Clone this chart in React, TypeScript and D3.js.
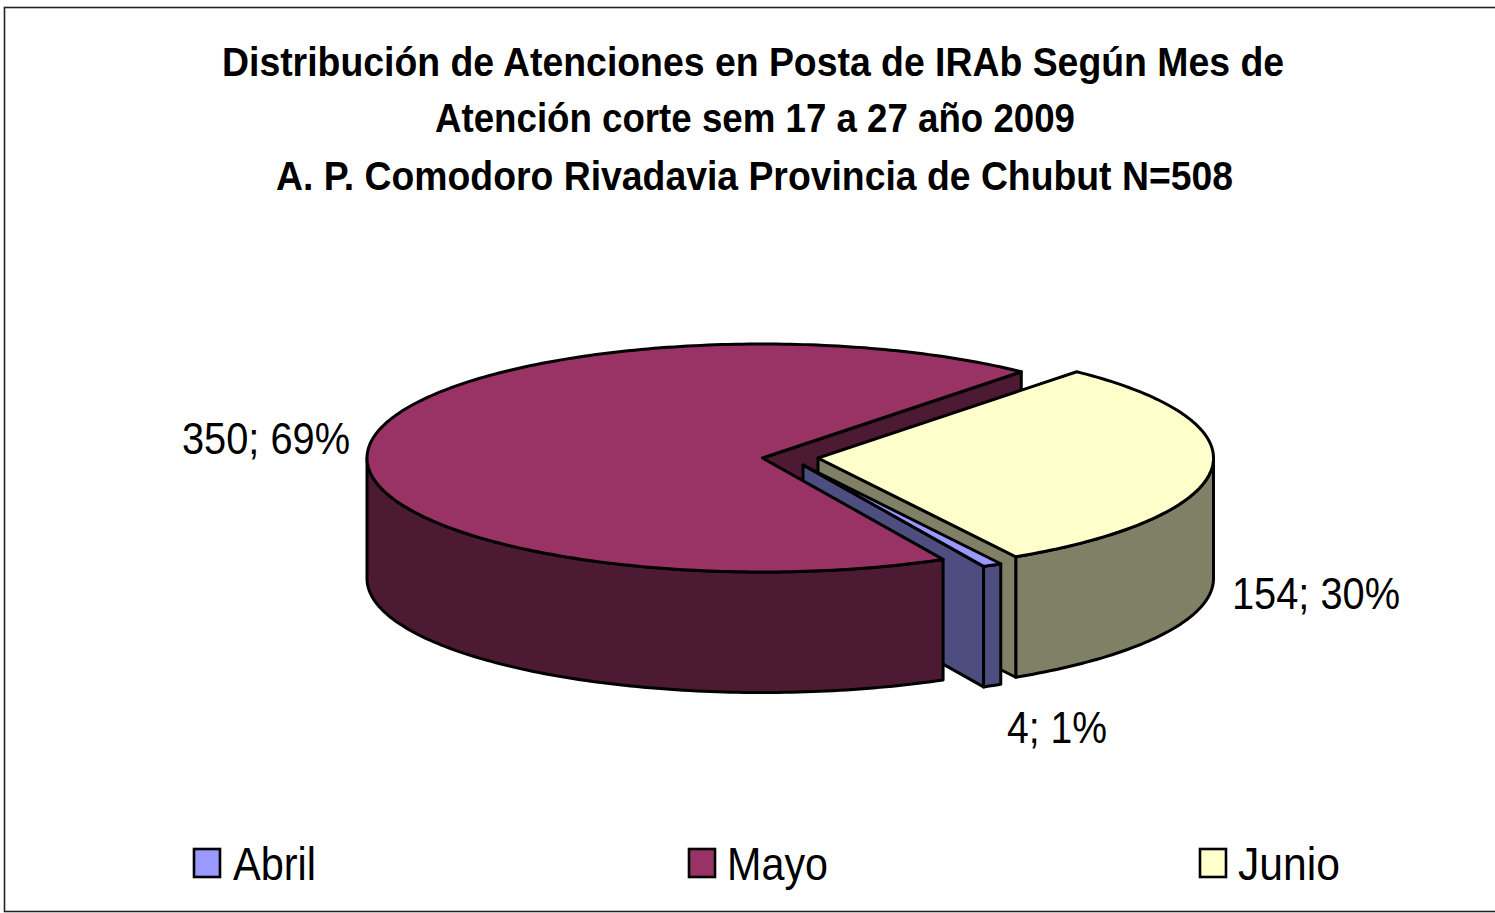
import React from "react";
import * as d3 from "d3";

const months = ["Abril", "Mayo", "Junio"];
const counts = [4, 350, 154];
const pointLabels = ["4; 1%", "350; 69%", "154; 30%"];
const titleLines = [
  "Distribución de Atenciones en Posta de IRAb Según Mes de",
  "Atención corte sem 17 a 27 año 2009",
  "A. P. Comodoro Rivadavia Provincia de Chubut N=508",
];
const topColors = ["#9999FF", "#993366", "#FFFFCC"];
const wallColors = ["#4D4D80", "#4D1A33", "#808066"];

const W = 1495, H = 913;
const RX = 395.5, RY = 114, DEPTH = 120.5;
const apexes = [[803, 465], [762.5, 458], [818, 458]];
const titleLayout = [[222, 1284, 76], [435, 1075, 132], [276, 1233, 190]];
const labelLayout = [[1007, 1107, 743], [182, 350, 454], [1232, 1400, 609]];
const legendLayout = [[193, 233, 316], [688, 727, 828], [1199, 1238, 1340]];

const rad = (d: number) => (d * Math.PI) / 180;
const pie = d3.pie<number>().sort(null).startAngle(rad(150)).endAngle(rad(510));
const arcs = pie(counts);
const line = d3.line<[number, number]>().x((d) => d[0]).y((d) => d[1]);
const sx = d3.scaleLinear().domain([-1, 1]).range([-RX, RX]);
const sy = d3.scaleLinear().domain([-1, 1]).range([RY, -RY]);

function pt(i: number, a: number, dz = 0): [number, number] {
  return [apexes[i][0] + sx(Math.sin(a)), apexes[i][1] + sy(Math.cos(a)) + dz];
}
function sample(a0: number, a1: number): number[] {
  const n = Math.max(2, Math.ceil(Math.abs(a1 - a0) / rad(1)));
  return d3.range(n + 1).map((k) => a0 + ((a1 - a0) * k) / n);
}
function topPath(i: number) {
  const { startAngle: a0, endAngle: a1 } = arcs[i];
  return line([[apexes[i][0], apexes[i][1]], ...sample(a0, a1).map((a) => pt(i, a))]) + "Z";
}
function outerWall(i: number, a0: number, a1: number) {
  return line([...sample(a0, a1).map((a) => pt(i, a)), ...sample(a1, a0).map((a) => pt(i, a, DEPTH))]) + "Z";
}
function cutWall(i: number, a: number) {
  const [x, y] = apexes[i];
  return line([[x, y], pt(i, a), pt(i, a, DEPTH), [x, y + DEPTH]]) + "Z";
}

const stroke = { stroke: "#000", strokeWidth: 3, strokeLinejoin: "round" as const };

export default function App() {
  const [ab, ma, ju] = arcs;
  return (
    <svg width={W} height={H} style={{ position: "absolute", left: 0, top: 0 }} fontFamily="'Liberation Sans', Arial, sans-serif">
      <rect x={4.5} y={7.5} width={W + 10} height={904} fill="#fff" stroke="#222" strokeWidth={1.6} />
      {titleLines.map((t, i) => (
        <text key={t} x={titleLayout[i][0]} y={titleLayout[i][2]} fontSize={40} fontWeight="bold"
          textLength={titleLayout[i][1] - titleLayout[i][0]} lengthAdjust="spacingAndGlyphs">{t}</text>
      ))}

      {/* Mayo's cut face, seen through the gap */}
      <path d={cutWall(1, ma.endAngle)} fill={wallColors[1]} {...stroke} />
      {/* Junio: outer wall is the part of its arc that faces the viewer */}
      <path d={outerWall(2, rad(450), ju.endAngle)} fill={wallColors[2]} {...stroke} />
      <path d={cutWall(2, ju.endAngle)} fill={wallColors[2]} {...stroke} />
      <path d={topPath(2)} fill={topColors[2]} {...stroke} />
      {/* Abril */}
      <path d={cutWall(0, ab.endAngle)} fill={wallColors[0]} {...stroke} />
      <path d={outerWall(0, ab.startAngle, ab.endAngle)} fill={wallColors[0]} {...stroke} />
      <path d={topPath(0)} fill={topColors[0]} {...stroke} />
      {/* Mayo */}
      <path d={outerWall(1, ma.startAngle, rad(270))} fill={wallColors[1]} {...stroke} />
      <path d={topPath(1)} fill={topColors[1]} {...stroke} />

      {pointLabels.map((t, i) => (
        <text key={t} x={labelLayout[i][0]} y={labelLayout[i][2]} fontSize={45}
          textLength={labelLayout[i][1] - labelLayout[i][0]} lengthAdjust="spacingAndGlyphs">{t}</text>
      ))}
      {months.map((m, i) => (
        <g key={m}>
          <rect x={legendLayout[i][0] + 1} y={849} width={26} height={28} fill={topColors[i]} stroke="#000" strokeWidth={2.6} />
          <text x={legendLayout[i][1]} y={880} fontSize={46}
            textLength={legendLayout[i][2] - legendLayout[i][1]} lengthAdjust="spacingAndGlyphs">{m}</text>
        </g>
      ))}
    </svg>
  );
}
